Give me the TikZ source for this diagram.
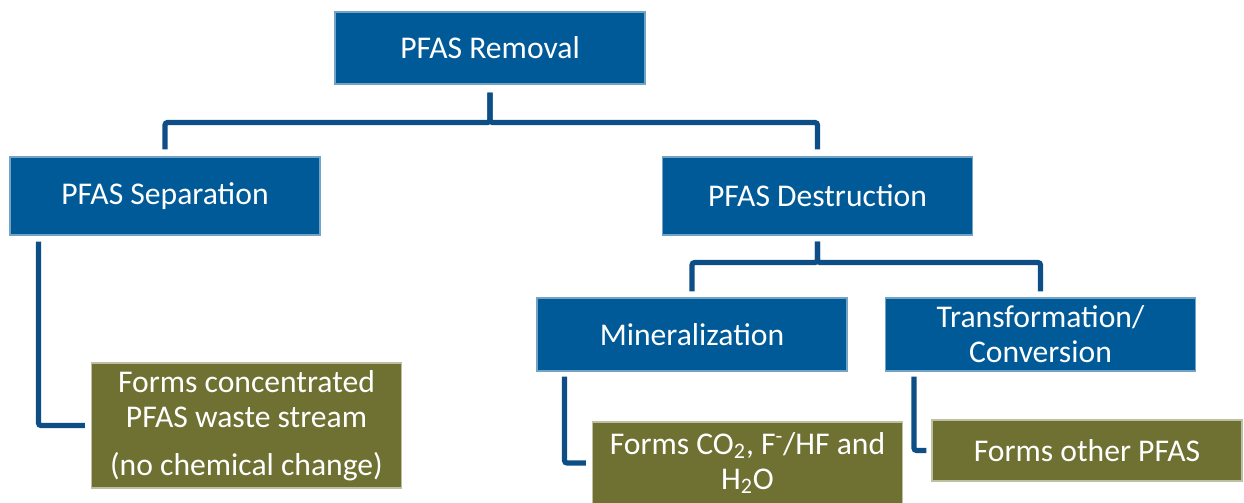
\documentclass[tikz,border=0pt]{standalone}
\usepackage{fontspec}
\setmainfont{Carlito}
\usepackage{tikz}
\usetikzlibrary{positioning,calc}
\usepackage{xcolor}
\definecolor{PFASBlue}{RGB}{0,90,152}
\definecolor{LinkBlue}{RGB}{14,78,134}
\definecolor{PFASOlive}{RGB}{110,113,50}

\begin{document}
\begin{tikzpicture}[
    catbox/.style={draw=PFASBlue!55!white,fill=PFASBlue,line width=0.6pt,text=white,
                   minimum width=6.2cm,align=center,inner sep=2pt,
                   font=\fontsize{18}{20}\selectfont},
    outbox/.style={draw=PFASOlive!45!white,fill=PFASOlive,line width=0.6pt,text=white,
                   minimum width=6.2cm,align=center,inner sep=2pt,
                   font=\fontsize{18}{20}\selectfont},
    link/.style={draw=LinkBlue,line width=3pt,rounded corners=1.5pt}
  ]
  \useasboundingbox (0,0) rectangle (24.88,10.04);
  \clip (0,0) rectangle (24.88,10.04);

  % top level
  \node[catbox,minimum height=1.44cm] (removal) at (9.80,9.08) {PFAS Removal};

  % second level
  \node[catbox,minimum height=1.56cm] (separation) at (3.30,6.12) {PFAS Separation};
  \node[catbox,minimum height=1.56cm] (destruction) at (16.35,6.12) {PFAS Destruction};

  % third level
  \node[catbox,minimum height=1.46cm] (mineral) at (13.84,3.35) {Mineralization};
  \node[catbox,minimum height=1.46cm] (transform) at (20.81,3.35) {Transformation/\\Conversion};

  % outcomes
  \node[outbox,minimum height=2.5cm] (sepout) at (4.93,1.53)
    {Forms concentrated\\PFAS waste stream\\[7pt](no chemical change)};
  \node[outbox,minimum height=1.64cm] (minout) at (14.95,0.78)
    {Forms CO\textsubscript{2}, F\textsuperscript{-}/HF and\\H\textsubscript{2}O};
  \node[outbox,minimum height=1.22cm] (transout) at (21.74,1.03) {Forms other PFAS};

  % tree connectors
  \draw[link,shorten <=0.16cm,shorten >=0.14cm] (removal.south) -- ++(0,-0.76) -| (separation.north);
  \draw[link,shorten <=0.16cm,shorten >=0.14cm] (removal.south) -- ++(0,-0.76) -| (destruction.north);
  \draw[link,shorten <=0.12cm,shorten >=0.12cm] (destruction.south) -- ++(0,-0.54) -| (mineral.north);
  \draw[link,shorten <=0.12cm,shorten >=0.12cm] (destruction.south) -- ++(0,-0.54) -| (transform.north);

  % side connectors
  \draw[link] ([xshift=0.58cm,yshift=-0.12cm]separation.south west) |- ([xshift=-0.12cm]sepout.west);
  \draw[link] ([xshift=0.56cm,yshift=-0.1cm]mineral.south west) |- ([xshift=-0.12cm]minout.west);
  \draw[link] ([xshift=0.58cm,yshift=-0.1cm]transform.south west) |- ([xshift=-0.1cm]transout.west);
\end{tikzpicture}
\end{document}
